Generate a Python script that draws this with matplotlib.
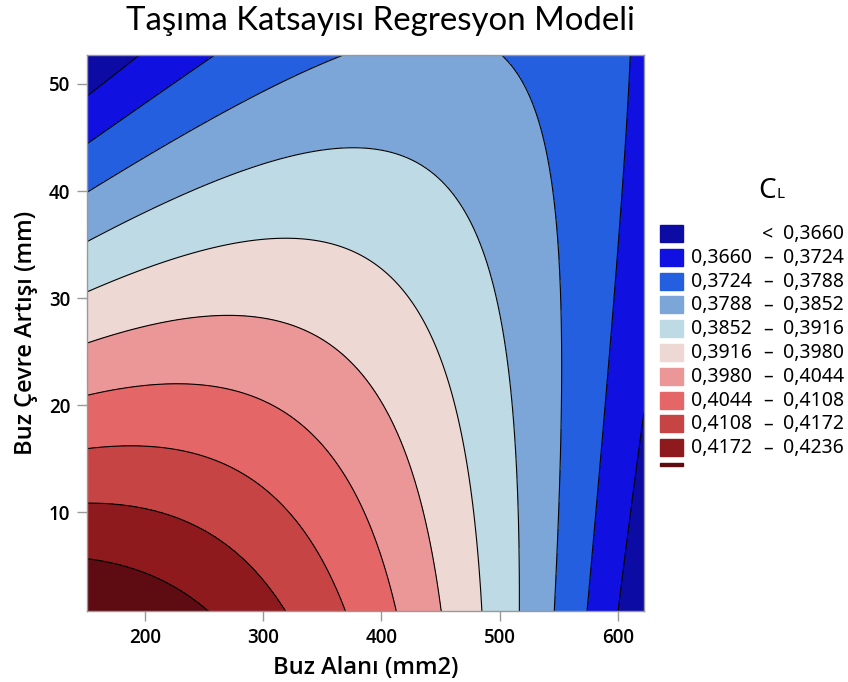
import numpy as np
import matplotlib
matplotlib.use('Agg')
import matplotlib.pyplot as plt
from matplotlib.patches import Rectangle

plt.rcParams['font.family'] = ['Noto Sans', 'DejaVu Sans']
LBL = ['Open Sans', 'Noto Sans', 'DejaVu Sans']

# regresyon modeli katsayilari (CL = b0 + bx*A + by*P + bxx*A^2 + byy*P^2 + bxy*A*P)
# konturlardan okunan noktalara oturtuldu
b0, bx, by = 0.4302141, 3.798772e-05, -1.681616e-03
bxx, byy, bxy = -2.422291e-07, -2.694839e-06, 3.275212e-06
x_range = [151, 622]      # Buz Alani (mm2)
y_range = [0.8, 52.7]     # Buz Cevre Artisi (mm)
levels = [0.3660, 0.3724, 0.3788, 0.3852, 0.3916, 0.3980, 0.4044, 0.4108, 0.4172, 0.4236]
colors = ['#0C0CA4', '#1010E0', '#245FE0', '#7CA6D8', '#BEDAE4', '#EDD8D4',
          '#EC9797', '#E46666', '#C64444', '#8F1A1E', '#5E0B12']
x_ticks = [200, 300, 400, 500, 600]
y_ticks = [10, 20, 30, 40, 50]

xs = np.linspace(*x_range, 400)
ys = np.linspace(*y_range, 400)
X, Y = np.meshgrid(xs, ys)
Z = b0 + bx * X + by * Y + bxx * X**2 + byy * Y**2 + bxy * X * Y

fig = plt.figure(figsize=(8.48, 6.82), dpi=100)
ax = fig.add_axes([87 / 848, 1 - 611 / 682, 557 / 848, 556 / 682])
bounds = [min(Z.min(), levels[0]) - 1] + levels + [max(Z.max(), levels[-1]) + 1]
ax.contourf(X, Y, Z, levels=bounds, colors=colors)
ax.contour(X, Y, Z, levels=levels, colors='black', linewidths=0.8)
ax.set_xlim(x_range); ax.set_ylim(y_range)
ax.set_xticks(x_ticks); ax.set_yticks(y_ticks)
ax.tick_params(direction='out', length=7, width=1, color='#999999', pad=5)
for lb in ax.get_xticklabels() + ax.get_yticklabels():
    lb.set_family(LBL); lb.set_fontweight('semibold'); lb.set_fontsize(13.5)
for s in ax.spines.values():
    s.set_color('#999999'); s.set_linewidth(1)
ax.set_xlabel('Buz Alanı (mm2)', fontsize=17, family=LBL, fontweight='semibold', labelpad=6)
ax.set_ylabel('Buz Çevre Artışı (mm)', fontsize=17, family=LBL, fontweight='semibold', labelpad=8)

fig.text(380 / 848, 1 - 21 / 682, 'Taşıma Katsayısı Regresyon Modeli', fontsize=23.8,
         family=['Lato', 'DejaVu Sans'], ha='center', va='center')

# lejant
fig.text(758 / 848, 1 - 198 / 682, 'C', fontsize=20, ha='left', va='baseline')
fig.text(776 / 848, 1 - 198 / 682, 'L', fontsize=11, ha='left', va='baseline')
fmt = lambda v: f'{v:.4f}'.replace('.', ',')
for i, c in enumerate(colors):
    top = 225 + i * 23.8
    h = 17 if i < len(colors) - 1 else 2.7
    fig.patches.append(Rectangle((660 / 848, 1 - (top + h) / 682), 23 / 848, h / 682,
                                 transform=fig.transFigure, color=c, figure=fig))
    if i == len(colors) - 1:
        break
    yc = 1 - (top + 9) / 682
    if i == 0:
        fig.text(768 / 848, yc, '<', fontsize=14, ha='center', va='center')
    else:
        fig.text(752 / 848, yc, fmt(levels[i - 1]), fontsize=14, ha='right', va='center')
        fig.text(768 / 848, yc, '–', fontsize=14, fontweight='bold', ha='center', va='center')
    fig.text(844 / 848, yc, fmt(levels[i]), fontsize=14, ha='right', va='center')

fig.savefig('out.png', dpi=100)
